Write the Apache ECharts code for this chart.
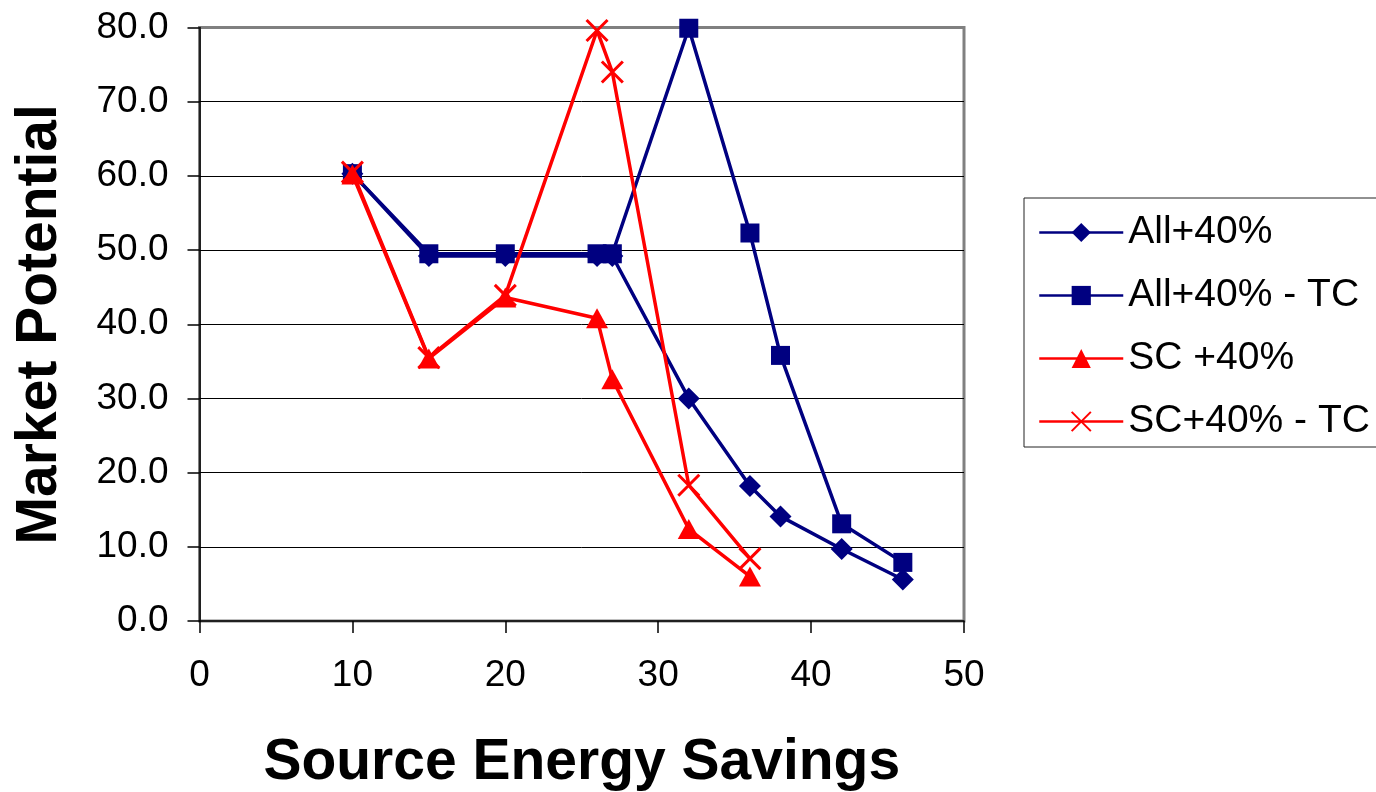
<!DOCTYPE html>
<html>
<head>
<meta charset="utf-8">
<style>
  html, body { margin: 0; padding: 0; background: #ffffff; }
  #chart { width: 1376px; height: 792px; }
</style>
<script src="https://cdn.jsdelivr.net/npm/echarts@6/dist/echarts.min.js"></script>
</head>
<body>
<div id="chart"></div>
<script>
// Series names as shown in the legend
const seriesNames = ['All+40%', 'All+40% - TC', 'SC +40%', 'SC+40% - TC'];

// Source energy savings (x) and market potential (y) for each series
const allX     = [10, 15, 20, 26, 27, 32, 36, 38, 42, 46];
const allY     = [60.3, 49.2, 49.2, 49.2, 49.2, 30.0, 18.2, 14.1, 9.7, 5.6];

const allTcX   = [10, 15, 20, 26, 27, 32, 36, 38, 42, 46];
const allTcY   = [60.3, 49.5, 49.5, 49.5, 49.5, 79.9, 52.3, 35.8, 13.1, 7.9];

const scX      = [10, 15, 20, 26, 27, 32, 36];
const scY      = [60.2, 35.4, 43.6, 40.8, 32.6, 12.4, 6.0];

const scTcX    = [10, 15, 20, 26, 27, 32, 36];
const scTcY    = [60.5, 35.5, 43.9, 79.6, 74.0, 18.3, 8.4];

// Axis ticks
const xTicks = [0, 10, 20, 30, 40, 50];
const yTicks = [0, 10, 20, 30, 40, 50, 60, 70, 80];

const NAVY = '#000080';
const RED = '#ff0000';
const FONT = '"Liberation Sans", Arial, Helvetica, sans-serif';

function pairs(xs, ys) {
  return xs.map((x, i) => [x, ys[i]]);
}

const crossSymbol = 'path://M0,0L10,10M10,0L0,10';

const chart = echarts.init(document.getElementById('chart'), null, { renderer: 'canvas' });

const option = {
  animation: false,
  backgroundColor: '#ffffff',
  textStyle: { fontFamily: FONT, color: '#000' },
  grid: {
    left: 199.5,
    right: 412,
    top: 27.5,
    bottom: 171,
    outerBoundsMode: 'none',
    containLabel: false,
    show: true,
    borderColor: '#808080',
    borderWidth: 3,
    backgroundColor: '#ffffff'
  },
  legend: {
    orient: 'vertical',
    left: 1024,
    top: 198,
    padding: [15, 30, 6, 14],
    backgroundColor: '#ffffff',
    borderColor: '#222222',
    borderWidth: 1,
    itemWidth: 84,
    itemHeight: 24,
    itemGap: 24,
    lineStyle: { width: 2.5 },
    textStyle: { fontFamily: FONT, fontSize: 39, lineHeight: 39, color: '#000', padding: [0, 0, 0, 0] },
    data: seriesNames
  },
  xAxis: {
    type: 'value',
    min: xTicks[0],
    max: xTicks[xTicks.length - 1],
    interval: xTicks[1] - xTicks[0],
    name: 'Source Energy Savings',
    nameLocation: 'middle',
    nameGap: 114,
    nameTextStyle: { fontFamily: FONT, fontSize: 57, fontWeight: 'bold', color: '#000' },
    axisLine: { show: true, onZero: false, lineStyle: { color: '#000', width: 1.5 } },
    axisTick: { show: true, inside: false, length: 12, lineStyle: { color: '#000', width: 1.5 } },
    axisLabel: { fontFamily: FONT, fontSize: 37, color: '#000', margin: 36 },
    splitLine: { show: false }
  },
  yAxis: {
    type: 'value',
    min: yTicks[0],
    max: yTicks[yTicks.length - 1],
    interval: yTicks[1] - yTicks[0],
    name: 'Market Potential',
    nameLocation: 'middle',
    nameRotate: 90,
    nameGap: 131,
    nameTextStyle: { fontFamily: FONT, fontSize: 57, fontWeight: 'bold', color: '#000' },
    axisLine: { show: true, onZero: false, lineStyle: { color: '#000', width: 1.5 } },
    axisTick: { show: true, inside: false, length: 12, lineStyle: { color: '#000', width: 1.5 } },
    axisLabel: {
      fontFamily: FONT, fontSize: 37, color: '#000', margin: 31,
      formatter: v => v.toFixed(1)
    },
    splitLine: { show: true, showMinLine: false, showMaxLine: false, lineStyle: { color: '#000', width: 1 } }
  },
  series: [
    {
      name: seriesNames[0],
      type: 'line',
      data: pairs(allX, allY),
      symbol: 'diamond',
      symbolSize: 22,
      lineStyle: { color: NAVY, width: 3.5 },
      itemStyle: { color: NAVY },
      z: 2
    },
    {
      name: seriesNames[1],
      type: 'line',
      data: pairs(allTcX, allTcY),
      symbol: 'rect',
      symbolSize: 19,
      lineStyle: { color: NAVY, width: 3.5 },
      itemStyle: { color: NAVY },
      z: 3
    },
    {
      name: seriesNames[2],
      type: 'line',
      data: pairs(scX, scY),
      symbol: 'triangle',
      symbolSize: [22, 20],
      lineStyle: { color: RED, width: 3.5 },
      itemStyle: { color: RED },
      z: 4
    },
    {
      name: seriesNames[3],
      type: 'line',
      data: pairs(scTcX, scTcY),
      symbol: crossSymbol,
      symbolSize: 21,
      lineStyle: { color: RED, width: 3.5 },
      itemStyle: { color: RED, borderColor: RED, borderWidth: 3 },
      z: 5
    }
  ]
};

chart.setOption(option);
</script>
</body>
</html>
